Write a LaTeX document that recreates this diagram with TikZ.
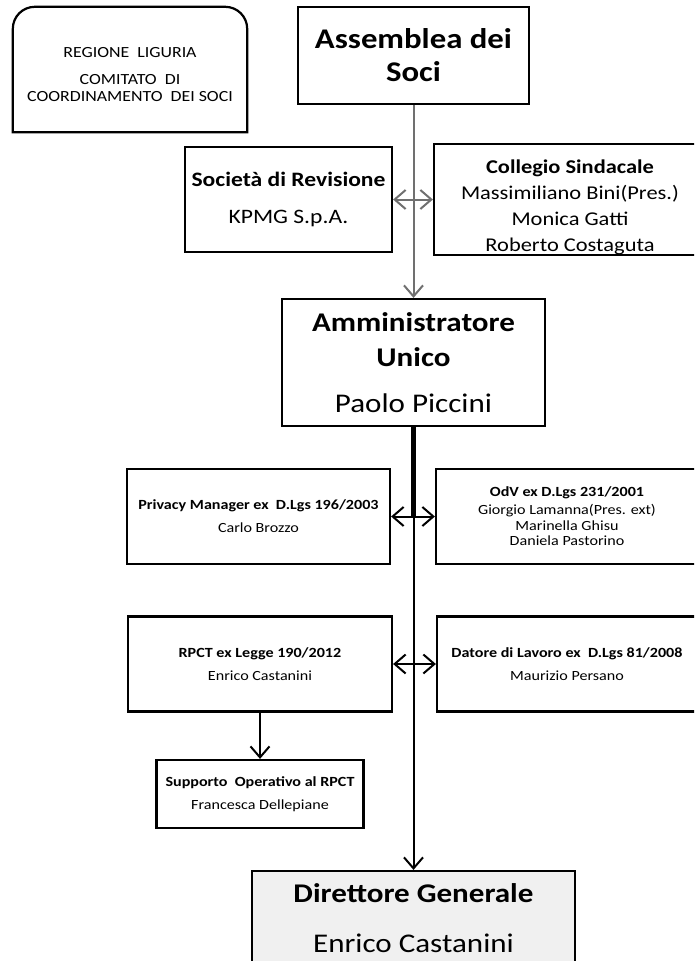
\documentclass[tikz,border=0pt]{standalone}
\usepackage{fontspec}
\setmainfont{Carlito}[FakeStretch=1.15]
\usetikzlibrary{arrows.meta}
\definecolor{linkgray}{RGB}{112,112,112}
\definecolor{dgfill}{RGB}{240,240,240}

\begin{document}
\begin{tikzpicture}[
  x=1pt, y=-1pt,
  >={Straight Barb[length=11pt,width=19pt]},
  box/.style={draw, line width=2.2pt, inner sep=0pt, align=center},
  big/.style={font=\fontsize{27}{35}\selectfont\bfseries},
  mid/.style={font=\fontsize{20.5}{26}\selectfont},
  small/.style={font=\fontsize{14}{15.5}\selectfont},
  link/.style={line width=2pt},
]
\useasboundingbox (0,0) rectangle (694,961);
\clip (0,0) rectangle (694,961);

% --- Top row ---
\node[minimum width=234pt, minimum height=125pt] (reg) at (130,69.5) {};
\draw[line width=2.2pt] (reg.south west) -- ([yshift=-22pt]reg.north west)
    arc[start angle=180, end angle=90, radius=22pt]
    -- ([xshift=-22pt]reg.north east)
    arc[start angle=90, end angle=0, radius=22pt]
    -- (reg.south east) -- cycle;
\node[align=center, font=\fontsize{15.5}{17}\selectfont, yshift=-5.5pt] (regtxt) at (reg.center)
    {REGIONE\ \ LIGURIA\\[10pt] COMITATO\ \ DI\\ COORDINAMENTO\ \ DEI SOCI};
\node[box, minimum width=231pt, minimum height=97pt, font=\fontsize{28.5}{33}\selectfont\bfseries]
    (assm) at (413.5,55.5) {Assemblea dei\\ Soci};

% --- Control bodies ---
\node[box, mid, minimum width=207pt, minimum height=105pt] (soc) at (288.5,199.5)
    {\textbf{Società di Revisione}\\[11pt] KPMG S.p.A.};
\node[box, mid, font=\fontsize{19.5}{26}\selectfont, minimum width=272pt, minimum height=105pt] (col) at (570,199.5)
    {\rule{0pt}{29pt}\textbf{Collegio Sindacale}\\ Massimiliano Bini(Pres.)\\ Monica Gatti\\ Roberto Costaguta};

\node[box, big, minimum width=263pt, minimum height=127pt] (amm) at (413.5,362.5)
    {Amministratore\\ Unico\\[11pt] \mdseries Paolo Piccini};

% --- Staff functions ---
\node[box, small, minimum width=263pt, minimum height=95pt] (priv) at (258.5,516.5)
    {\textbf{Privacy Manager ex\ \ D.Lgs 196/2003}\\[7.5pt] Carlo Brozzo};
\node[box, small, minimum width=262pt, minimum height=95pt] (odv) at (567,516.5)
    {\textbf{OdV ex D.Lgs 231/2001}\\[2.5pt] Giorgio Lamanna(Pres. ext)\\ Marinella Ghisu\\ Daniela Pastorino};
\node[box, small, minimum width=264pt, minimum height=95pt] (rpct) at (260,664)
    {\textbf{RPCT ex Legge 190/2012}\\[7.5pt] Enrico Castanini};
\node[box, small, minimum width=260pt, minimum height=95pt] (dat) at (567,664)
    {\textbf{Datore di Lavoro ex\ \ D.Lgs 81/2008}\\[7.5pt] Maurizio Persano};
\node[box, small, minimum width=207pt, minimum height=68pt] (supp) at (260,794)
    {\textbf{Supporto\ \ Operativo al RPCT}\\[7.5pt] Francesca Dellepiane};

\node[box, big, fill=dgfill, minimum width=323pt, minimum height=94pt] (dg) at (413.5,918)
    {Direttore Generale\\[15pt] \mdseries Enrico Castanini};

% --- Connectors ---
\draw[link, linkgray, ->] (assm) -- (amm);
\draw[link, linkgray, <->] (soc) -- (col);
\coordinate (split) at (amm.south |- priv.center);
\draw[line width=5pt] (amm.south) -- (split);
\draw[link, ->] (split) -- (dg);
\draw[link, <->] (priv) -- (odv);
\draw[link, <->] (rpct) -- (dat);
\draw[link, ->] (rpct) -- (supp);
\end{tikzpicture}
\end{document}
